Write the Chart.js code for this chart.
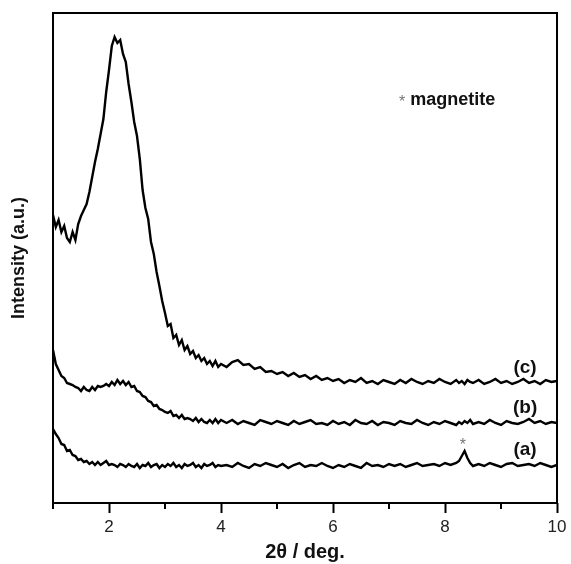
<!DOCTYPE html>
<html>
<head>
<meta charset="utf-8">
<script src="https://cdn.jsdelivr.net/npm/chart.js@4.4.1/dist/chart.umd.min.js"></script>
<style>
  html, body { margin: 0; padding: 0; background: #fff; }
  #wrap { width: 571px; height: 564px; }
</style>
</head>
<body>
<div id="wrap"><canvas id="c" width="571" height="564"></canvas></div>
<script>
// 2-theta positions (deg.)
const twoTheta = [
  1.00,1.05,1.10,1.15,1.20,1.25,1.30,1.35,1.40,1.45,1.50,1.55,1.60,1.65,1.70,1.75,1.80,1.85,1.90,1.95,
  2.00,2.05,2.10,2.15,2.20,2.25,2.30,2.35,2.40,2.45,2.50,2.55,2.60,2.65,2.70,2.75,2.80,2.85,2.90,2.95,
  3.00,3.05,3.10,3.15,3.20,3.25,3.30,3.35,3.40,3.45,3.50,3.55,3.60,3.65,3.70,3.75,3.80,3.85,3.90,3.95,
  4.00,
  4.1,4.2,4.3,4.4,4.5,4.6,4.7,4.8,4.9,5.0,5.1,5.2,5.3,5.4,5.5,5.6,5.7,5.8,5.9,6.0,
  6.1,6.2,6.3,6.4,6.5,6.6,6.7,6.8,6.9,7.0,7.1,7.2,7.3,7.4,7.5,7.6,7.7,7.8,7.9,8.0,
  8.1,8.2,8.25,8.3,8.35,8.4,8.45,8.5,
  8.6,8.7,8.8,8.9,9.0,9.1,9.2,9.3,9.4,9.5,9.6,9.7,9.8,9.9,10.0
];

// Intensity (a.u.), curve (c)
const seriesC = [
  288,276,283,271,277,265,261,271,263,279,287,293,299,311,326,341,354,369,384,411,
  433,457,466,460,463,449,441,419,401,381,367,344,313,295,284,261,249,231,217,202,
  190,177,179,165,168,158,163,153,157,149,152,145,148,142,145,139,142,137,142,136,
  139,
  136,141,143,138,139,134,136,131,132,129,131,127,130,126,128,124,127,123,125,122,
  124,120,123,121,125,120,122,119,123,121,119,123,120,124,121,119,122,120,124,121,
  119,123,120,122,119,123,121,120,
  123,119,121,124,120,122,119,121,124,120,122,119,123,121,122
];

// Intensity (a.u.), curve (b)
const seriesB = [
  153,139,133,127,125,120,119,118,116,115,112,116,113,112,116,113,117,116,117,119,
  117,121,118,123,119,122,118,121,116,117,112,111,107,106,102,101,97,98,94,93,
  91,90,92,87,88,85,88,84,85,84,82,85,81,84,81,80,83,80,84,80,
  83,
  80,83,79,82,80,78,83,81,79,82,80,78,82,79,81,83,79,80,78,82,
  79,81,78,83,80,79,82,78,81,80,78,82,80,79,83,80,78,81,79,82,
  80,78,81,79,82,80,83,79,
  81,79,83,80,78,82,80,79,81,84,80,82,79,81,80
];

// Intensity (a.u.), curve (a)
const seriesA = [
  74,69,65,59,58,52,53,48,47,43,44,41,42,39,41,38,41,38,40,42,
  38,39,38,36,39,38,36,39,37,36,39,35,38,37,40,36,38,39,35,38,
  36,39,37,40,36,38,35,39,37,38,40,36,38,35,39,37,38,40,36,38,
  37,
  38,36,40,37,35,39,37,40,38,36,39,35,38,40,36,38,37,40,37,35,
  38,36,39,37,35,40,37,38,36,39,37,39,36,38,40,37,38,39,37,40,
  38,40,42,47,52,45,40,37,
  39,37,40,38,36,39,40,37,38,39,37,40,38,36,38
];

const seriesLabels = ['(c)', '(b)', '(a)'];
const majorTicks = [2, 4, 6, 8, 10];
const minorTicks = [1, 3, 5, 7, 9];

function pts(ys) { return twoTheta.map((x, i) => ({ x: x, y: ys[i] })); }

const annotations = {
  id: 'annotations',
  afterDraw(chart) {
    const { ctx, chartArea: a, scales: { x, y } } = chart;
    ctx.save();
    // frame
    ctx.strokeStyle = '#000';
    ctx.lineWidth = 2;
    ctx.strokeRect(a.left, a.top, a.right - a.left, a.bottom - a.top);
    // minor ticks
    ctx.beginPath();
    minorTicks.forEach(v => {
      const px = x.getPixelForValue(v);
      ctx.moveTo(px, a.bottom);
      ctx.lineTo(px, a.bottom + 6);
    });
    ctx.stroke();
    // curve labels
    ctx.fillStyle = '#111';
    ctx.font = 'bold 19px Arial, "Liberation Sans", sans-serif';
    ctx.textAlign = 'center';
    ctx.textBaseline = 'middle';
    const labelPos = [[9.43, 135], [9.43, 95], [9.43, 53]];
    seriesLabels.forEach((t, i) => {
      ctx.fillText(t, x.getPixelForValue(labelPos[i][0]), y.getPixelForValue(labelPos[i][1]));
    });
    // asterisk over magnetite peak
    ctx.fillStyle = '#777';
    ctx.font = '16px Arial, "Liberation Sans", sans-serif';
    ctx.fillText('*', x.getPixelForValue(8.32), y.getPixelForValue(57));
    // legend note
    ctx.textAlign = 'left';
    ctx.fillText('*', x.getPixelForValue(7.18), y.getPixelForValue(400));
    ctx.fillStyle = '#111';
    ctx.font = 'bold 18px Arial, "Liberation Sans", sans-serif';
    ctx.fillText('magnetite', x.getPixelForValue(7.38), y.getPixelForValue(403));
    ctx.restore();
  }
};

new Chart(document.getElementById('c'), {
  type: 'line',
  data: {
    datasets: [
      { label: seriesLabels[0], data: pts(seriesC) },
      { label: seriesLabels[1], data: pts(seriesB) },
      { label: seriesLabels[2], data: pts(seriesA) }
    ].map(d => Object.assign(d, {
      borderColor: '#000', borderWidth: 2.4, pointRadius: 0, tension: 0, fill: false
    }))
  },
  options: {
    responsive: false,
    animation: false,
    layout: { padding: { top: 13, right: 14, left: 0, bottom: 0 } },
    plugins: { legend: { display: false }, tooltip: { enabled: false } },
    scales: {
      x: {
        type: 'linear', min: 1, max: 10,
        afterFit(s) { s.height = 61; },
        border: { display: false },
        grid: {
          drawOnChartArea: false, drawTicks: true, tickLength: 10, tickWidth: 2,
          tickColor: (c) => (c.tick && majorTicks.includes(c.tick.value)) ? '#000' : 'rgba(0,0,0,0)'
        },
        ticks: {
          stepSize: 1, autoSkip: false, maxRotation: 0, padding: 4, color: '#222',
          font: { family: 'Arial, "Liberation Sans", sans-serif', size: 17 },
          callback: (v) => majorTicks.includes(v) ? String(v) : ''
        },
        title: {
          display: true, text: '2θ / deg.', color: '#111',
          font: { family: 'Arial, "Liberation Sans", sans-serif', size: 20, weight: 'bold' },
          padding: { top: 0, bottom: 0 }
        }
      },
      y: {
        min: 0, max: 490,
        afterFit(s) { s.width = 53; },
        border: { display: false },
        grid: { display: false },
        ticks: { display: false },
        title: {
          display: true, text: 'Intensity (a.u.)', color: '#111',
          font: { family: 'Arial, "Liberation Sans", sans-serif', size: 18, weight: 'bold' },
          padding: { top: 8, bottom: 0 }
        }
      }
    }
  },
  plugins: [annotations]
});
</script>
</body>
</html>
